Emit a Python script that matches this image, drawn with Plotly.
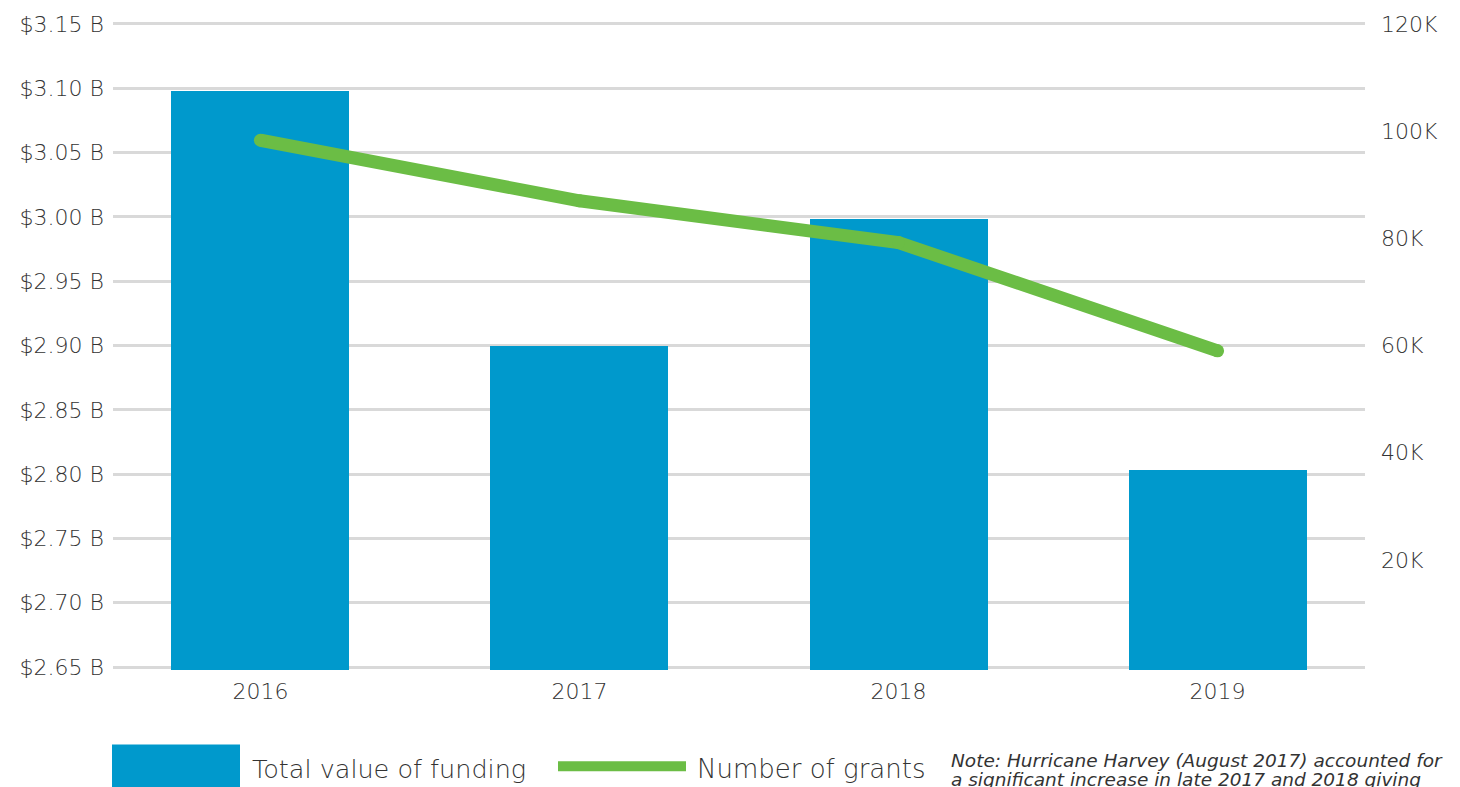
import plotly.graph_objects as go

years = ["2016", "2017", "2018", "2019"]
funding_billion = [3.098, 2.900, 2.998, 2.803]
grants = [98300, 87000, 79200, 59000]
left_ticks = [2.65, 2.70, 2.75, 2.80, 2.85, 2.90, 2.95, 3.00, 3.05, 3.10, 3.15]
left_tick_text = ["$%.2f B" % v for v in left_ticks]
right_ticks = [20000, 40000, 60000, 80000, 100000, 120000]
right_tick_text = ["20K", "40K", "60K", "80K", "100K", "120K"]
series_names = ["Total value of funding", "Number of grants"]
note_lines = ["Note: Hurricane Harvey (August 2017) accounted for",
              "a significant increase in late 2017 and 2018 giving"]

BLUE = "#0099CC"
GREEN = "#6BBD45"
FONT = "DejaVu Sans"
TXT = "#333333"
TICKFONT = dict(size=22, color=TXT, family=FONT, weight=300)

W, H = 1460, 787
# data area: top gridline at y=20, bottom at y=667 (pixels); pad 3 px so edge gridlines show
TOPPX, BOTPX, PAD = 19, 667, 3
L, R = 113, 95
T, B = TOPPX - PAD, H - (BOTPX + PAD)
pw, ph = W - L - R, H - T - B

y_lo, y_hi = 2.65, 3.15
upp = (y_hi - y_lo) / (BOTPX - TOPPX)
y2_lo, y2_hi = 0, 120000
upp2 = (y2_hi - y2_lo) / (BOTPX - TOPPX)


def px(x):
    return (x - L) / pw


def py(y):
    return (H - B - y) / ph


fig = go.Figure()
fig.add_trace(go.Bar(x=list(range(4)), y=funding_billion, marker_color=BLUE,
                     marker_line_width=0, width=0.558, name=series_names[0],
                     showlegend=False))
fig.add_trace(go.Scatter(x=list(range(4)), y=grants, yaxis="y2", mode="lines+markers",
                         line=dict(color=GREEN, width=13),
                         marker=dict(color=GREEN, size=13, line_width=0),
                         name=series_names[1], showlegend=False))

fig.update_layout(
    width=W, height=H,
    margin=dict(l=L, r=R, t=T, b=B),
    paper_bgcolor="white", plot_bgcolor="white",
    font=dict(family=FONT, color=TXT),
    bargap=0,
    xaxis=dict(range=[-0.462, 3.462], tickmode="array", tickvals=list(range(4)),
               ticktext=years, tickfont=TICKFONT,
               showgrid=False, zeroline=False, showline=False, ticks="",
               ticklabelstandoff=6),
    yaxis=dict(range=[y_lo - PAD * upp, y_hi + PAD * upp], tickmode="array",
               tickvals=left_ticks, ticktext=left_tick_text, tickfont=TICKFONT,
               showgrid=True, gridcolor="#D9D9D9", gridwidth=3,
               zeroline=False, showline=False, ticks="", ticklabelstandoff=8),
    yaxis2=dict(range=[y2_lo - PAD * upp2, y2_hi + PAD * upp2], overlaying="y",
                side="right", tickmode="array",
                tickvals=right_ticks, ticktext=right_tick_text,
                tickfont=TICKFONT, showgrid=False,
                zeroline=False, showline=False, ticks="", ticklabelstandoff=15),
)

# legend drawn manually
fig.add_shape(type="rect", xref="paper", yref="paper",
              x0=px(112), x1=px(240), y0=py(745), y1=py(800),
              fillcolor=BLUE, line_width=0)
fig.add_annotation(xref="paper", yref="paper", x=px(250), y=py(770),
                   text=series_names[0], showarrow=False, xanchor="left",
                   yanchor="middle", font=dict(size=25.5, color=TXT, weight=300))
fig.add_shape(type="line", xref="paper", yref="paper",
              x0=px(558), x1=px(686), y0=py(767), y1=py(767),
              line=dict(color=GREEN, width=10))
fig.add_annotation(xref="paper", yref="paper", x=px(695), y=py(770),
                   text=series_names[1], showarrow=False, xanchor="left",
                   yanchor="middle", font=dict(size=26, color=TXT, weight=300))
for i, line in enumerate(note_lines):
    fig.add_annotation(xref="paper", yref="paper", x=px(949), y=py(761 + 19.5 * i),
                       text="<i>" + line + "</i>", showarrow=False,
                       xanchor="left", yanchor="middle", align="left",
                       font=dict(size=18.5, color=TXT, weight=300))

fig.write_html("out.html", config={"displayModeBar": False},
               post_script="document.body.style.margin='0';document.body.style.overflow='hidden';")
